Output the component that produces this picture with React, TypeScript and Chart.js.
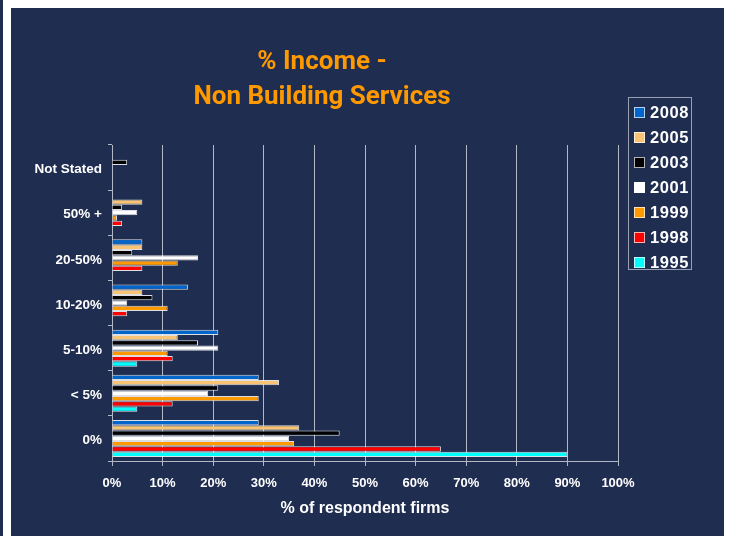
import React, { useEffect, useRef } from 'react';
import { Chart, registerables } from 'chart.js';

Chart.register(...registerables);

const titleLines = ['% Income -', 'Non Building Services'];
const xAxisTitle = '% of respondent firms';
const categories = ['Not Stated', '50% +', '20-50%', '10-20%', '5-10%', '< 5%', '0%'];
const years = ['2008', '2005', '2003', '2001', '1999', '1998', '1995'];
const seriesColors = ['#0066cc', '#f8c473', '#000000', '#ffffff', '#ff9900', '#ff0000', '#00ffff'];

const v2008 = [null, null, 6, 15, 21, 29, 29];
const v2005 = [null, 6, 6, 6, 13, 33, 37];
const v2003 = [3, 2, 4, 8, 17, 21, 45];
const v2001 = [null, 5, 17, 3, 21, 19, 35];
const v1999 = [null, 1, 13, 11, 11, 29, 36];
const v1998 = [null, 2, 6, 3, 12, 12, 65];
const v1995 = [null, null, null, null, 5, 5, 90];

const seriesValues = [v2008, v2005, v2003, v2001, v1999, v1998, v1995];

const xMin = 0;
const xMax = 100;
const xStep = 10;

const NAVY = '#1f2d50';
const GRID = '#b4b8c6';
const FONT = '"Liberation Sans", Arial, Helvetica, sans-serif';

export default function App() {
  const canvasRef = useRef<HTMLCanvasElement | null>(null);

  useEffect(() => {
    if (!canvasRef.current) return;
    const chart = new Chart(canvasRef.current, {
      type: 'bar',
      data: {
        labels: categories,
        datasets: years.map((y, i) => ({
          label: y,
          data: seriesValues[i],
          backgroundColor: seriesColors[i],
          borderColor: 'rgba(255,255,255,0.85)',
          borderWidth: 1,
          categoryPercentage: 0.82,
          barPercentage: 1,
        })),
      },
      options: {
        indexAxis: 'y',
        responsive: false,
        animation: false,
        layout: { padding: { top: 137, right: 106, left: 0, bottom: 0 } },
        plugins: {
          legend: { display: false },
          title: { display: false },
          tooltip: { enabled: false },
        },
        scales: {
          x: {
            min: xMin,
            max: xMax,
            ticks: {
              stepSize: xStep,
              callback: (v: any) => v + '%',
              color: '#ffffff',
              font: { family: FONT, size: 13, weight: 'bold' },
              padding: 10,
            },
            grid: { color: GRID, lineWidth: 1, tickLength: 5, drawTicks: true },
            border: { color: GRID },
            title: {
              display: true,
              text: xAxisTitle,
              color: '#ffffff',
              font: { family: FONT, size: 16, weight: 'bold' },
              padding: { top: 4, bottom: 18 },
            },
            afterFit: (s: any) => {
              s.height = 75;
            },
          },
          y: {
            ticks: {
              color: '#ffffff',
              font: { family: FONT, size: 13.5, weight: 'bold' },
              padding: 6,
              labelOffset: 2,
            },
            grid: { drawOnChartArea: false, tickLength: 4, color: GRID },
            border: { color: GRID },
            afterFit: (s: any) => {
              s.width = 101;
            },
          },
        },
      },
    } as any);
    return () => chart.destroy();
  }, []);

  return (
    <div style={{ position: 'absolute', left: 0, top: 0, width: 731, height: 536, background: '#ffffff', overflow: 'hidden' }}>
      <div style={{ position: 'absolute', left: 0, top: 0, width: 3, height: 536, background: NAVY }} />
      <div style={{ position: 'absolute', left: 11, top: 8, width: 713, height: 528, background: NAVY }}>
        <canvas ref={canvasRef} width={713} height={528} style={{ position: 'absolute', left: 0, top: 0 }} />
        <div
          style={{
            position: 'absolute',
            left: 111,
            top: 35,
            width: 400,
            textAlign: 'center',
            color: '#ff9900',
            fontFamily: '"Comic Sans MS", Roboto, sans-serif',
            fontWeight: 'bold',
            fontSize: 26,
            lineHeight: '35px',
          }}
        >
          {titleLines.map((t, i) => (
            <div key={i}>{t}</div>
          ))}
        </div>
        <div
          style={{
            position: 'absolute',
            left: 617,
            top: 89,
            width: 62,
            height: 171,
            border: '1px solid #9aa0b2',
          }}
        >
          {years.map((y, i) => (
            <div key={y} style={{ position: 'absolute', left: 0, top: 2 + i * 25, height: 25, width: 62 }}>
              <div
                style={{
                  position: 'absolute',
                  left: 5,
                  top: 7,
                  width: 9,
                  height: 9,
                  background: seriesColors[i],
                  border: '1px solid rgba(255,255,255,0.7)',
                }}
              />
              <div
                style={{
                  position: 'absolute',
                  left: 21,
                  top: 0,
                  lineHeight: '25px',
                  color: '#ffffff',
                  fontFamily: FONT,
                  fontWeight: 'bold',
                  fontSize: 16.5,
                  letterSpacing: 0.6,
                }}
              >
                {y}
              </div>
            </div>
          ))}
        </div>
      </div>
    </div>
  );
}
